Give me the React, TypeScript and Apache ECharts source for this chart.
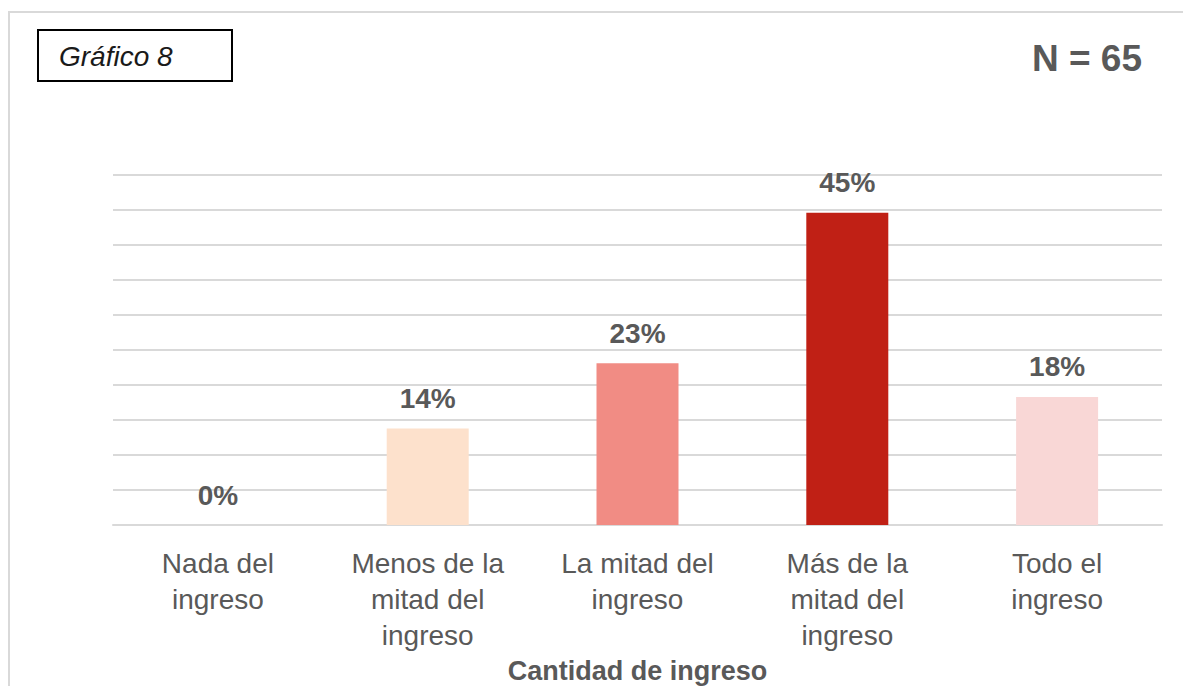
import React, { useEffect, useRef } from "react";
import * as echarts from "echarts";

const categories = [
  "Nada del\ningreso",
  "Menos de la\nmitad del\ningreso",
  "La mitad del\ningreso",
  "Más de la\nmitad del\ningreso",
  "Todo el\ningreso",
];
const percentages = [0, 13.8, 23.1, 44.6, 18.3];
const barColors = ["#F9D7D6", "#FDE1CC", "#F18C84", "#C02015", "#F9D7D6"];
const axisTitle = "Cantidad de ingreso";
const chartLabel = "Gráfico 8";
const sampleLabel = "N = 65";

const FONT = "'Liberation Sans', Arial, sans-serif";

export default function App() {
  const ref = useRef<HTMLDivElement>(null);
  useEffect(() => {
    if (!ref.current) return;
    const chart = echarts.init(ref.current, undefined, { renderer: "svg" });
    chart.setOption({
      animation: false,
      backgroundColor: "#FFFFFF",
      grid: {
        left: 113,
        right: 21,
        top: 175,
        bottom: 161,
        containLabel: false,
        outerBoundsMode: "none",
      },
      xAxis: {
        type: "category",
        data: categories,
        axisLine: { show: true, lineStyle: { color: "#D9D9D9", width: 2 } },
        axisTick: { show: false },
        axisLabel: {
          interval: 0,
          color: "#595959",
          fontFamily: FONT,
          fontSize: 28,
          lineHeight: 36,
          margin: 20,
        },
        name: axisTitle,
        nameLocation: "middle",
        nameGap: 131,
        nameTextStyle: {
          color: "#595959",
          fontFamily: FONT,
          fontSize: 27,
          fontWeight: "bold",
        },
      },
      yAxis: {
        type: "value",
        min: 0,
        max: 50,
        interval: 5,
        axisLabel: { show: false },
        axisLine: { show: false },
        axisTick: { show: false },
        splitLine: { lineStyle: { color: "#D9D9D9", width: 2 } },
      },
      series: [
        {
          type: "bar",
          barWidth: 82,
          data: percentages.map((v, i) => ({
            value: v,
            itemStyle: { color: barColors[i] },
          })),
          label: {
            show: true,
            position: "top",
            distance: 16,
            color: "#595959",
            fontFamily: FONT,
            fontSize: 28,
            fontWeight: "bold",
            formatter: (p: any) => `${Math.round(p.value)}%`,
          },
        },
      ],
      graphic: [
        {
          type: "rect",
          shape: { x: 9, y: 12, width: 1300, height: 800 },
          style: { fill: "none", stroke: "#D9D9D9", lineWidth: 2 },
          silent: true,
        },
        {
          type: "rect",
          shape: { x: 38, y: 30, width: 194, height: 51 },
          style: { fill: "#FFFFFF", stroke: "#000000", lineWidth: 2 },
        },
        {
          type: "text",
          x: 59,
          y: 56,
          style: {
            text: chartLabel,
            fill: "#1A1A1A",
            font: `italic 28px ${FONT}`,
            verticalAlign: "middle",
          },
        },
        {
          type: "text",
          x: 1142,
          y: 58,
          style: {
            text: sampleLabel,
            fill: "#595959",
            font: `bold 37px ${FONT}`,
            align: "right",
            verticalAlign: "middle",
          },
        },
      ],
    });
    return () => chart.dispose();
  }, []);
  return (
    <div
      ref={ref}
      style={{ position: "absolute", left: 0, top: 0, width: 1183, height: 686 }}
    />
  );
}
